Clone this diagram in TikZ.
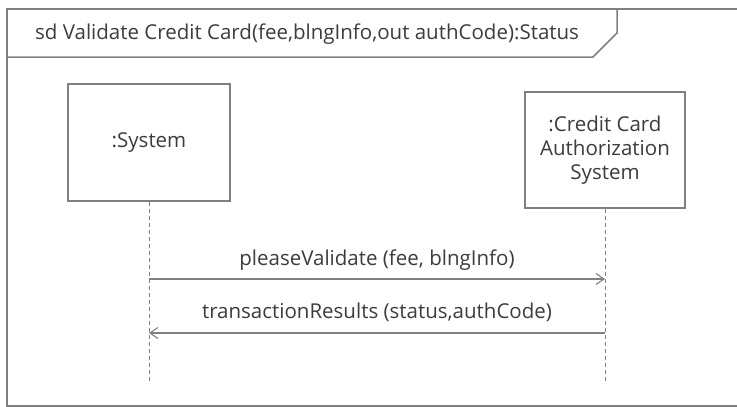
\documentclass[tikz,border=0pt]{standalone}
\usepackage{fontspec}
\setmainfont{Open Sans}
\usetikzlibrary{arrows.meta}
\definecolor{linegray}{RGB}{128,128,128}
\definecolor{txtgray}{RGB}{60,60,60}
\begin{document}
\begin{tikzpicture}[x=1pt,y=-1pt,
  every node/.style={text=txtgray, font=\fontsize{20.5}{24}\selectfont, inner sep=0pt},
  framestyle/.style={draw=linegray, line width=1.5pt},
  lifebox/.style={draw=linegray, line width=1.5pt, align=center, fill=white},
  lifeline/.style={draw=linegray, line width=1pt, dash pattern=on 4pt off 3pt},
  msg/.style={draw=linegray, line width=1.3pt, -{Straight Barb[length=8pt,width=11pt,line width=1.1pt]}},
]
\useasboundingbox (0,0) rectangle (737,407);
% frame
\draw[framestyle] (7,9) rectangle (760,406);
\draw[framestyle] (7,57) -- (593,57) -- (617,33) -- (617,9);
\node[anchor=west] (title) at (35,34) {sd Validate Credit Card(fee,blngInfo,out authCode):Status};
% lifelines
\node[lifebox, minimum width=162pt, minimum height=117pt] (sys) at (149,142.5) {:System};
\node[lifebox, minimum width=160pt, minimum height=116pt] (ccas) at (605,150) {:Credit Card\\Authorization\\System};
\coordinate (sysend) at (149,383);
\coordinate (ccasend) at (605,383);
\draw[lifeline] (sys.south) -- (sysend);
\draw[lifeline] (ccas.south) -- (ccasend);
% messages
\coordinate (m1a) at (149,279);
\coordinate (m1b) at (605,279);
\coordinate (m2a) at (605,333);
\coordinate (m2b) at (149,333);
\draw[msg] (m1a) -- (m1b);
\draw[msg] (m2a) -- (m2b);
\node (l1) at (377,260) {pleaseValidate (fee, blngInfo)};
\node (l2) at (377,312) {transactionResults (status,authCode)};
\end{tikzpicture}
\end{document}
